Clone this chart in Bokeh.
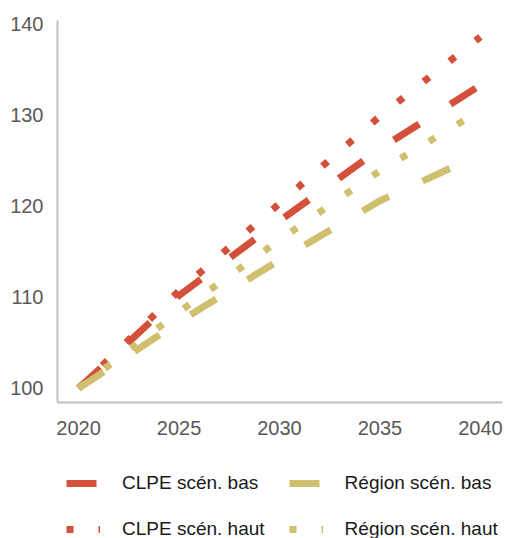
from bokeh.plotting import figure
from bokeh.models import Legend, LegendItem, Range1d, FixedTicker
from bokeh.layouts import column
from bokeh.embed import file_html
from bokeh.resources import INLINE

years = [2020, 2025, 2030, 2035, 2040]
clpe_bas = [100, 110.2, 118.4, 126.3, 133.3]
clpe_haut = [100, 110.7, 120.3, 129.9, 138.6]
region_bas = [100, 107.3, 114.1, 120.6, 125.7]
region_haut = [100, 108.4, 116.3, 123.9, 130.5]

x_ticks = [2020, 2025, 2030, 2035, 2040]
y_ticks = [100, 110, 120, 130, 140]
labels = ["CLPE scén. bas", "Région scén. bas", "CLPE scén. haut", "Région scén. haut"]

RED = "#D4503A"
YEL = "#CFBF6E"
BAS_DASH = "30 37"
HAUT_DASH = "7 26"

p = figure(width=505, height=446, output_backend="svg", toolbar_location=None,
           x_range=Range1d(2018.95, 2041.1), y_range=Range1d(98.45, 140.4),
           min_border_left=57, min_border_right=3, min_border_top=20, min_border_bottom=44)
p.outline_line_color = None
p.xgrid.visible = False
p.ygrid.visible = False

for ax in (p.xaxis[0], p.yaxis[0]):
    ax.axis_line_color = "#BFBFBF"
    ax.axis_line_width = 2
    ax.major_tick_line_color = None
    ax.minor_tick_line_color = None
    ax.major_tick_out = 0
    ax.major_tick_in = 0
    ax.minor_tick_out = 0
    ax.major_label_text_font = "Liberation Sans"
    ax.major_label_text_font_size = "20px"
    ax.major_label_text_color = "#595959"

p.xaxis.ticker = FixedTicker(ticks=x_ticks)
p.yaxis.ticker = FixedTicker(ticks=y_ticks)
p.xaxis.major_label_standoff = 18
p.yaxis.major_label_standoff = 14

p.line(years, clpe_bas, line_color=RED, line_width=7, line_dash=BAS_DASH, line_cap="butt")
p.line(years, clpe_haut, line_color=RED, line_width=7, line_dash=HAUT_DASH, line_cap="butt")
p.line(years, region_bas, line_color=YEL, line_width=7, line_dash=BAS_DASH, line_cap="butt")
p.line(years, region_haut, line_color=YEL, line_width=7, line_dash=HAUT_DASH, line_cap="butt")

# legend panel (separate figure below the chart); its sample lines lie outside its view
p2 = figure(width=505, height=92, output_backend="svg", toolbar_location=None,
            x_axis_type=None, y_axis_type=None,
            x_range=Range1d(0, 1), y_range=Range1d(0, 1),
            min_border_left=0, min_border_right=0, min_border_top=0, min_border_bottom=0)
p2.outline_line_color = None
p2.xgrid.visible = False
p2.ygrid.visible = False
hidden_x = [5, 6]
hidden_y = [5, 6]
l1 = p2.line(hidden_x, hidden_y, line_color=RED, line_width=7, line_dash=BAS_DASH, line_cap="butt")
l3 = p2.line(hidden_x, hidden_y, line_color=YEL, line_width=7, line_dash=BAS_DASH, line_cap="butt")
l2 = p2.line(hidden_x, hidden_y, line_color=RED, line_width=7, line_dash="7 25", line_cap="butt")
l4 = p2.line(hidden_x, hidden_y, line_color=YEL, line_width=7, line_dash="7 25", line_cap="butt")

legend = Legend(items=[LegendItem(label=t, renderers=[r]) for t, r in zip(labels, [l1, l3, l2, l4])],
                location=(9, -2), orientation="horizontal")
legend.ncols = 2
legend.padding = 0
legend.margin = 0
legend.border_line_color = None
legend.background_fill_alpha = 0
legend.glyph_width = 34
legend.glyph_height = 22
legend.label_height = 22
legend.label_standoff = 22
legend.spacing = 24
legend.label_text_font = "Liberation Sans"
legend.label_text_font_size = "19px"
legend.label_text_color = "#1A1A1A"
p2.add_layout(legend, "center")

open("out.html", "w").write(file_html(column(p, p2), INLINE))
